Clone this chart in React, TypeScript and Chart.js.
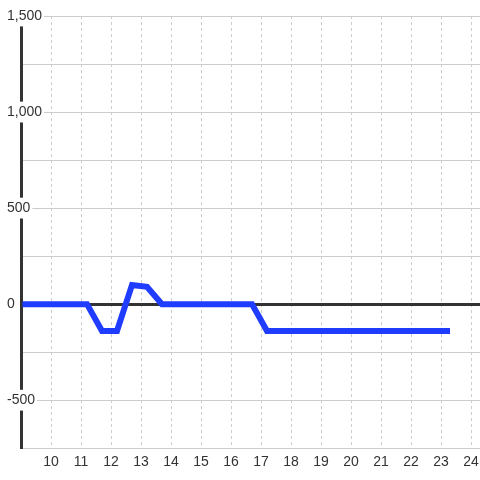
import React, { useEffect, useRef } from "react";
import { Chart, registerables } from "chart.js";

Chart.register(...registerables);

const X_VALUES = [9, 11.2, 11.7, 12.2, 12.7, 13.2, 13.7, 16.7, 17.2, 23.3];
const Y_VALUES = [0, 0, -140, -140, 100, 90, 0, 0, -140, -140];
const X_TICKS = [10, 11, 12, 13, 14, 15, 16, 17, 18, 19, 20, 21, 22, 23, 24];
const Y_LABELED = [1500, 1000, 500, 0, -500];
const X_MIN = 9;
const X_MAX = 24.3;
const Y_MIN = -750;
const Y_MAX = 1500;
const Y_STEP = 250;

const FONT = "'Liberation Sans', Arial, sans-serif";

export default function App() {
  const ref = useRef<HTMLCanvasElement | null>(null);

  useEffect(() => {
    if (!ref.current) return;
    const chart = new Chart(ref.current, {
      type: "line",
      data: {
        datasets: [
          {
            data: X_VALUES.map((x, i) => ({ x, y: Y_VALUES[i] })),
            borderColor: "#1f3cff",
            borderWidth: 6,
            pointRadius: 0,
            tension: 0,
            fill: false,
            clip: { left: -1.5, right: 4, top: 4, bottom: 4 } as any,
          },
        ],
      },
      options: {
        animation: false,
        responsive: false,
        layout: { padding: { left: 8, top: 16, right: 0, bottom: 3 } },
        plugins: { legend: { display: false }, tooltip: { enabled: false } },
        scales: {
          x: {
            type: "linear",
            min: X_MIN,
            max: X_MAX,
            afterBuildTicks: (s: any) => {
              s.ticks = X_TICKS.map((v) => ({ value: v }));
            },
            afterFit: (s: any) => {
              s.paddingRight = 0;
              s.paddingLeft = 0;
            },
            grid: { color: "#cccccc", lineWidth: 1, drawTicks: false },
            border: { display: false, dash: [3, 3] },
            ticks: {
              padding: 6,
              color: "#333333",
              font: { family: FONT, size: 14 },
              callback: (v: any) => String(v),
            },
          },
          y: {
            type: "linear",
            min: Y_MIN,
            max: Y_MAX,
            afterFit: (s: any) => {
              s.width = 13;
            },
            grid: {
              drawTicks: false,
              color: (c: any) => (c.tick && c.tick.value === 0 ? "#333333" : "#cccccc"),
              lineWidth: (c: any) => (c.tick && c.tick.value === 0 ? 3 : 1),
            },
            border: { display: true, color: "#333333", width: 3 },
            ticks: {
              stepSize: Y_STEP,
              mirror: true,
              padding: -14,
              crossAlign: "near",
              showLabelBackdrop: true,
              backdropColor: "#ffffff",
              backdropPadding: 2,
              color: "#333333",
              font: { family: FONT, size: 14 },
              callback: (v: any) =>
                Y_LABELED.includes(Number(v)) ? Number(v).toLocaleString("en-US") : "",
            },
          },
        },
      },
    });
    return () => chart.destroy();
  }, []);

  return (
    <div style={{ position: "fixed", left: 0, top: 0, width: 480, height: 480, background: "#fff" }}>
      <canvas ref={ref} width={480} height={480} style={{ display: "block" }} />
    </div>
  );
}
